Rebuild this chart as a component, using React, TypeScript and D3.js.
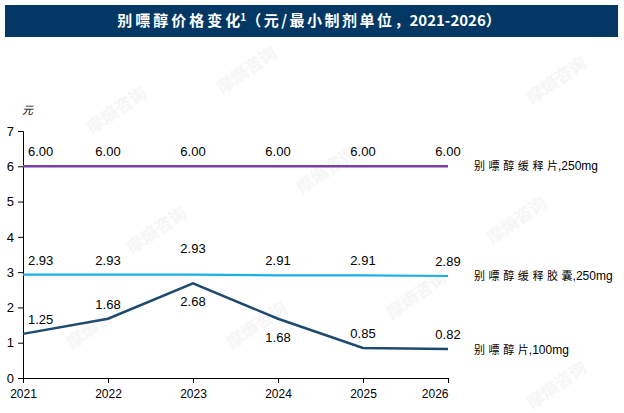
import React, { useRef, useEffect } from "react";
import * as d3 from "d3";

const years = ["2021", "2022", "2023", "2024", "2025", "2026"];
const seriesNames = ["别嘌醇缓释片,250mg", "别嘌醇缓释胶囊,250mg", "别嘌醇片,100mg"];
const srTablet = [6.0, 6.0, 6.0, 6.0, 6.0, 6.0];
const srCapsule = [2.93, 2.93, 2.93, 2.91, 2.91, 2.89];
const tablet = [1.25, 1.68, 2.68, 1.68, 0.85, 0.82];
const yTicks = [0, 1, 2, 3, 4, 5, 6, 7];
const colors = ["#7a3fa6", "#1ab0ea", "#1d4a6e"];
// label above (-1) or below (+1) the point
const labelSide = [
  [-1, -1, -1, -1, -1, -1],
  [-1, -1, -1.8, -1, -1, -1],
  [-1, -1, 1, 1, -1, -1],
];

const App = () => {
  const svgRef = useRef(null);
  const width = 624;
  const height = 413;

  useEffect(() => {
    if (!svgRef.current) return;
    const svg = d3.select(svgRef.current);
    svg.selectAll("*").remove();

    const margin = { top: 131, left: 23, right: 176, bottom: 35 };
    const x = d3
      .scalePoint()
      .domain(years)
      .range([margin.left, width - margin.right]);
    const y = d3
      .scaleLinear()
      .domain([0, 7])
      .range([height - margin.bottom, margin.top]);

    // watermarks
    const wm = [
      [250, 75], [120, 115], [560, 85], [330, 175], [160, 235],
      [520, 225], [260, 330], [420, 300], [100, 330], [560, 390],
    ];
    svg
      .selectAll("text.wm")
      .data(wm)
      .join("text")
      .attr("class", "wm")
      .attr("transform", (d) => `translate(${d[0]},${d[1]}) rotate(-35)`)
      .attr("text-anchor", "middle")
      .attr("font-family", "Noto Sans CJK SC")
      .attr("font-weight", "bold")
      .attr("font-size", 17)
      .attr("fill", "#f6f6f6")
      .text("摩熵咨询");

    // title bar
    svg
      .append("rect")
      .attr("x", 5)
      .attr("y", 5)
      .attr("width", 613)
      .attr("height", 32)
      .attr("fill", "#023863");
    const title = svg
      .append("text")
      .attr("x", 309)
      .attr("y", 26)
      .attr("text-anchor", "middle")
      .attr("fill", "#fff")
      .attr("font-family", "Noto Sans CJK SC")
      .attr("font-weight", "bold")
      .attr("font-size", 15);
    title.append("tspan").attr("letter-spacing", 3).text("别嘌醇价格变");
    title.append("tspan").text("化");
    title.append("tspan").attr("font-size", 10).attr("dy", -5).text("1");
    title.append("tspan").attr("dy", 5).attr("letter-spacing", 2.5).text("（元/最小制剂单位");
    title.append("tspan").text("，2021-2026）");

    // axes
    const yAxis = d3.axisLeft(y).tickValues(yTicks).tickSize(5).tickPadding(4).tickFormat(d3.format("d"));
    const gy = svg.append("g").attr("transform", `translate(${margin.left},0)`).call(yAxis);
    gy.select(".domain").attr("stroke", "#000");
    gy.selectAll("text").attr("font-family", "Liberation Sans").attr("font-size", 13).attr("fill", "#000");

    const xAxis = d3.axisBottom(x).tickSize(5).tickSizeOuter(0).tickPadding(6);
    const gx = svg
      .append("g")
      .attr("transform", `translate(0,${height - margin.bottom})`)
      .call(xAxis);
    gx.selectAll("text")
      .attr("font-family", "Liberation Sans")
      .attr("font-size", 12)
      .attr("fill", "#000")
      .attr("text-anchor", (d, i) => (i === years.length - 1 ? "end" : "middle"));

    svg
      .append("text")
      .attr("x", 22)
      .attr("y", 114)
      .attr("font-family", "Noto Sans CJK SC")
      .attr("font-size", 11)
      .attr("font-style", "italic")
      .text("元");

    const allSeries = [srTablet, srCapsule, tablet];
    const line = d3
      .line<number>()
      .x((d, i) => x(years[i])!)
      .y((d) => y(d));

    allSeries.forEach((vals, s) => {
      svg
        .append("path")
        .datum(vals)
        .attr("d", line)
        .attr("fill", "none")
        .attr("stroke", colors[s])
        .attr("stroke-width", s === 1 ? 2.2 : 2.5);

      svg
        .selectAll(`text.lbl${s}`)
        .data(vals)
        .join("text")
        .attr("class", `lbl${s}`)
        .attr("x", (d, i) => x(years[i])! + (i === 0 ? 5 : 0))
        .attr("y", (d, i) => {
          const side = labelSide[s][i];
          return side < 0 ? y(d) + side * 14 + 4 : y(d) + 23;
        })
        .attr("text-anchor", (d, i) => (i === 0 ? "start" : "middle"))
        .attr("font-family", "Liberation Sans")
        .attr("font-size", 13)
        .attr("fill", "#000")
        .text((d) => d.toFixed(2));

      // series name at line end
      const last = vals[vals.length - 1];
      const name = seriesNames[s];
      const idx = name.indexOf(",");
      const t = svg
        .append("text")
        .attr("x", 474)
        .attr("y", y(last) + 4 + (s === 2 ? 1 : 0))
        .attr("font-size", 11)
        .attr("fill", "#000");
      t.append("tspan")
        .attr("font-family", "Noto Sans CJK SC")
        .attr("letter-spacing", 3.6)
        .text(name.slice(0, idx - 1));
      t.append("tspan")
        .attr("font-family", "Noto Sans CJK SC")
        .text(name.slice(idx - 1, idx));
      t.append("tspan")
        .attr("font-family", "Liberation Sans")
        .attr("font-size", 12)
        .text(name.slice(idx));
    });
  }, []);

  return (
    <div style={{ position: "absolute", left: 0, top: 0 }}>
      <svg ref={svgRef} width={width} height={height} style={{ display: "block", background: "#fff" }} />
    </div>
  );
};

export default App;
